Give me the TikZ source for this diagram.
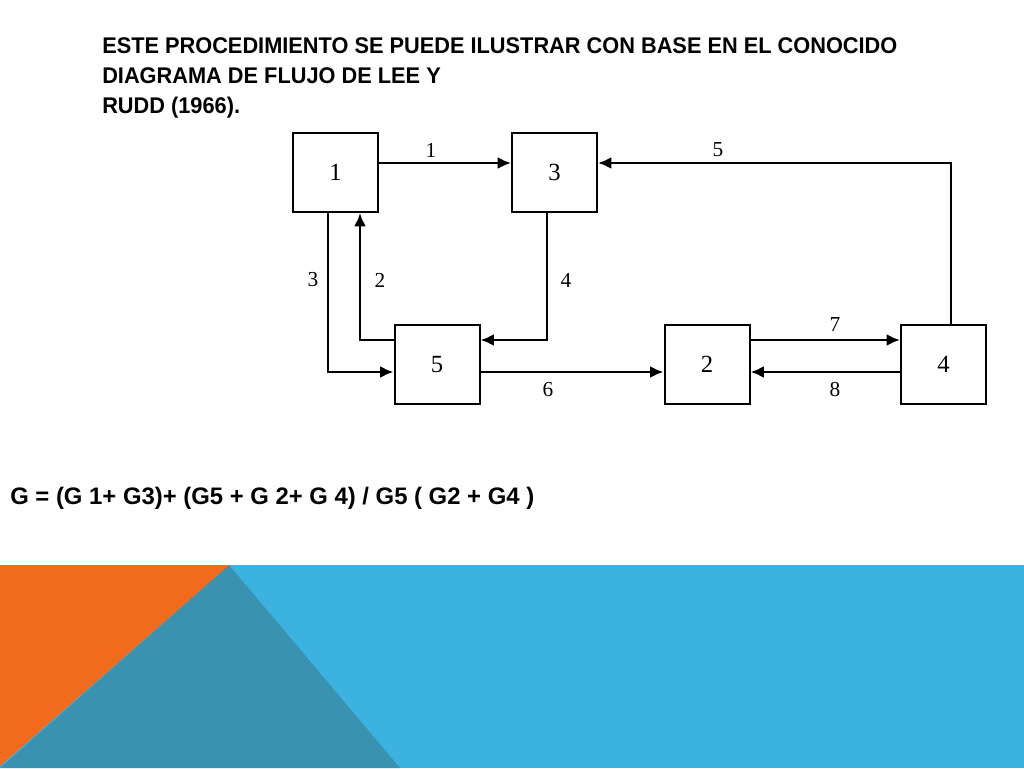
\documentclass[tikz,border=0pt]{standalone}
\usepackage{fontspec}
\setmainfont{Liberation Serif}
\newfontfamily\titlefont[FakeStretch=0.96]{Liberation Sans}
\newfontfamily\formfont{Liberation Sans}
\usetikzlibrary{arrows.meta}
\definecolor{orangeA}{HTML}{F26B1D}
\definecolor{tealA}{HTML}{3A92B1}
\definecolor{blueA}{HTML}{3BB2E0}
\begin{document}
\begin{tikzpicture}[x=0.75pt,y=-0.75pt,
  box/.style={draw,line width=1.5pt,minimum width=63.75pt,minimum height=59.25pt,inner sep=0pt,font=\fontsize{18.5}{20}\selectfont},
  arr/.style={line width=1.9pt,-{Latex[length=10pt,width=9pt]}},
  lbl/.style={inner sep=0pt,font=\fontsize{16}{18}\selectfont},
  ttl/.style={anchor=base west,inner sep=0pt,font=\titlefont\bfseries\fontsize{17}{20}\selectfont}]
\useasboundingbox (0,0) rectangle (1024,768);
% background shapes
\fill[blueA] (0,565) rectangle (1024,768);
\fill[tealA] (229,565) -- (400,768) -- (0,768) -- cycle;
\fill[orangeA] (0,565) -- (229,565) -- (0,766) -- cycle;
% title
\node[ttl] (t1) at (102,53) {ESTE PROCEDIMIENTO SE PUEDE ILUSTRAR CON BASE EN EL CONOCIDO};
\node[ttl] (t2) at (102,83) {DIAGRAMA DE FLUJO DE LEE Y};
\node[ttl] (t3) at (102,113) {RUDD (1966).};
% boxes
\node[box] (b1) at (335.5,172.5) {1};
\node[box] (b3) at (554.5,172.5) {3};
\node[box] (b5) at (437,364.5) {5};
\node[box] (b2) at (707,364.5) {2};
\node[box] (b4) at (943.5,364.5) {4};
% helper coordinates
\coordinate (ya) at (0,163);
\coordinate (yb) at (0,340);
\coordinate (yc) at (0,372);
\coordinate (x2) at (360,0);
\coordinate (x3) at (328,0);
\coordinate (x4) at (547,0);
\coordinate (x5) at (951,0);
% connectors
\draw[arr] (b1.east |- ya) -- (b3.west |- ya);
\draw[arr] (b4.north -| x5) |- (b3.east |- ya);
\draw[arr] (b1.south -| x3) |- (b5.west |- yc);
\draw[arr] (b5.west |- yb) -| (b1.south -| x2);
\draw[arr] (b3.south -| x4) |- (b5.east |- yb);
\draw[arr] (b5.east |- yc) -- (b2.west |- yc);
\draw[arr] (b2.east |- yb) -- (b4.west |- yb);
\draw[arr] (b4.west |- yc) -- (b2.east |- yc);
% labels
\node[lbl] (l1) at (431,150) {1};
\node[lbl] (l5) at (718,150) {5};
\node[lbl] (l3) at (313,280) {3};
\node[lbl] (l2) at (380,280) {2};
\node[lbl] (l4) at (566,280) {4};
\node[lbl] (l6) at (548,390) {6};
\node[lbl] (l7) at (835,325) {7};
\node[lbl] (l8) at (835,390) {8};
% formula
\node[anchor=base west,inner sep=0pt,font=\formfont\bfseries\fontsize{17.9}{20}\selectfont] (f) at (10,504) {G = (G 1+ G3)+ (G5 + G 2+ G 4) / G5 ( G2 + G4 )};
\end{tikzpicture}
\end{document}
